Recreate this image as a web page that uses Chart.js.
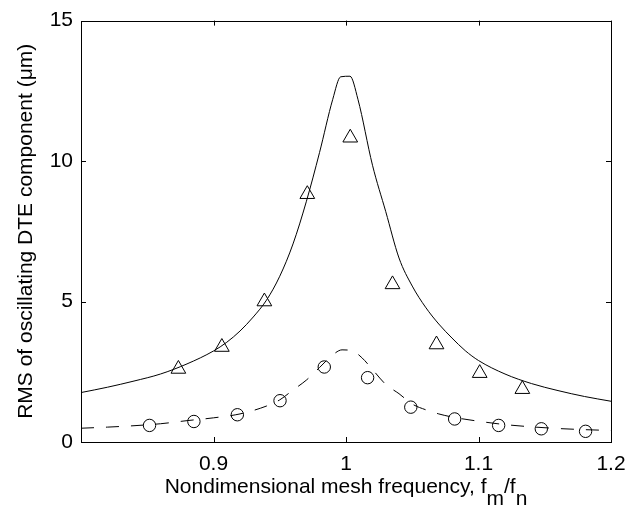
<!DOCTYPE html>
<html>
<head>
<meta charset="utf-8">
<script src="https://cdn.jsdelivr.net/npm/chart.js@4.4.1/dist/chart.umd.min.js"></script>
<style>
  html, body { margin: 0; padding: 0; background: #fff; }
  #wrap { width: 641px; height: 508px; }
</style>
</head>
<body>
<div id="wrap"><canvas id="chart" width="641" height="508"></canvas></div>
<script>
// measured points (triangles = high load, circles = low load)
const triX = [0.8735, 0.9063, 0.9384, 0.9708, 1.0032, 1.0351, 1.0683, 1.1009, 1.1331];
const triY = [2.60, 3.38, 5.00, 8.82, 10.83, 5.61, 3.47, 2.45, 1.88];
const circX = [0.8517, 0.8852, 0.9180, 0.9502, 0.9836, 1.0163, 1.0489, 1.0820, 1.1152, 1.1474, 1.1808];
const circY = [0.59, 0.73, 0.97, 1.47, 2.67, 2.29, 1.24, 0.82, 0.59, 0.47, 0.38];

// predicted curves
const solidX = [0.80, 0.82, 0.84, 0.86, 0.88, 0.90, 0.91, 0.92, 0.93, 0.94, 0.95, 0.96, 0.97, 0.98, 0.99, 0.996, 1.003,
  1.009, 1.02, 1.03, 1.04, 1.05, 1.06, 1.07, 1.08, 1.09, 1.10, 1.12, 1.14, 1.16, 1.18, 1.20];
const solidY = [1.76, 1.95, 2.17, 2.42, 2.78, 3.24, 3.55, 3.95, 4.45, 5.05, 5.90, 7.05, 8.55, 10.3, 12.2, 13.0, 13.02,
  12.2, 9.85, 8.20, 6.55, 5.55, 4.80, 4.20, 3.70, 3.25, 2.90, 2.42, 2.08, 1.83, 1.62, 1.45];
const dashX = [0.80, 0.82, 0.84, 0.86, 0.88, 0.90, 0.92, 0.94, 0.95, 0.96, 0.97, 0.98, 0.99, 0.997, 1.005,
  1.012, 1.02, 1.03, 1.04, 1.05, 1.06, 1.07, 1.08, 1.10, 1.12, 1.14, 1.16, 1.18, 1.20];
const dashY = [0.49, 0.53, 0.58, 0.65, 0.76, 0.86, 1.00, 1.28, 1.50, 1.85, 2.20, 2.65, 3.10, 3.28, 3.24,
  3.00, 2.58, 2.05, 1.72, 1.35, 1.15, 1.00, 0.89, 0.74, 0.62, 0.54, 0.48, 0.44, 0.41];

const xTickValues = [0.9, 1, 1.1, 1.2];
const yTickValues = [0, 5, 10, 15];

const FONT = '"Liberation Sans", Arial, Helvetica, sans-serif';
const FSIZE = 21;

const toPts = (xs, ys) => xs.map((x, i) => ({ x: x, y: ys[i] }));

// box, inward ticks and the two axis titles
const frame = {
  id: 'frame',
  afterDraw(chart) {
    const ctx = chart.ctx;
    const a = chart.chartArea;
    const sx = chart.scales.x, sy = chart.scales.y;
    ctx.save();
    ctx.strokeStyle = '#000';
    ctx.lineWidth = 1;
    ctx.strokeRect(Math.round(a.left) + 0.5, Math.round(a.top) + 0.5,
      Math.round(a.right - a.left), Math.round(a.bottom - a.top));
    ctx.beginPath();
    xTickValues.forEach(v => {
      const px = Math.round(sx.getPixelForValue(v)) + 0.5;
      ctx.moveTo(px, a.bottom); ctx.lineTo(px, a.bottom - 5);
      ctx.moveTo(px, a.top); ctx.lineTo(px, a.top + 5);
    });
    yTickValues.forEach(v => {
      const py = Math.round(sy.getPixelForValue(v)) + 0.5;
      ctx.moveTo(a.left, py); ctx.lineTo(a.left + 5, py);
      ctx.moveTo(a.right, py); ctx.lineTo(a.right - 5, py);
    });
    ctx.stroke();

    ctx.fillStyle = '#000';
    ctx.font = FSIZE + 'px ' + FONT;
    ctx.textBaseline = 'alphabetic';
    ctx.textAlign = 'left';
    const parts = [['Nondimensional mesh frequency, f', 0], ['m', 1], ['/f', 0], ['n', 1]];
    const total = parts.reduce((s, p) => s + ctx.measureText(p[0]).width, 0);
    let x0 = (a.left + a.right) / 2 - total / 2;
    parts.forEach(p => {
      ctx.fillText(p[0], x0, p[1] ? 505 : 493);
      x0 += ctx.measureText(p[0]).width;
    });

    ctx.translate(26, (a.top + a.bottom) / 2);
    ctx.rotate(-Math.PI / 2);
    ctx.textAlign = 'center';
    ctx.textBaseline = 'middle';
    ctx.fillText('RMS of oscillating DTE component (\u03bcm)', 0, 0);
    ctx.restore();
  }
};

new Chart(document.getElementById('chart'), {
  type: 'scatter',
  data: {
    datasets: [
      {
        data: toPts(solidX, solidY), showLine: true, borderColor: '#000', borderWidth: 1,
        pointRadius: 0, cubicInterpolationMode: 'monotone'
      },
      {
        data: toPts(dashX, dashY), showLine: true, borderColor: '#000', borderWidth: 1,
        borderDash: [13, 12], pointRadius: 0, cubicInterpolationMode: 'monotone'
      },
      {
        data: toPts(triX, triY), showLine: false, pointStyle: 'triangle', pointRadius: 8.5,
        pointBorderColor: '#000', pointBackgroundColor: 'rgba(0,0,0,0)', pointBorderWidth: 1
      },
      {
        data: toPts(circX, circY), showLine: false, pointStyle: 'circle', pointRadius: 6.2,
        pointBorderColor: '#000', pointBackgroundColor: 'rgba(0,0,0,0)', pointBorderWidth: 1
      }
    ]
  },
  options: {
    responsive: false,
    animation: false,
    devicePixelRatio: 1,
    events: [],
    layout: { padding: { top: 17, right: 30, bottom: 0, left: 0 } },
    plugins: { legend: { display: false }, tooltip: { enabled: false } },
    scales: {
      x: {
        type: 'linear', min: 0.8, max: 1.2,
        afterBuildTicks: s => { s.ticks = xTickValues.map(v => ({ value: v })); },
        afterFit: s => { s.height = 66; },
        grid: { display: false, drawTicks: false },
        border: { display: false },
        ticks: { color: '#000', padding: 10, maxRotation: 0, font: { family: FONT, size: FSIZE },
          callback: v => String(v) }
      },
      y: {
        type: 'linear', min: 0, max: 15,
        afterBuildTicks: s => { s.ticks = yTickValues.map(v => ({ value: v })); },
        afterFit: s => { s.width = 81; },
        grid: { display: false, drawTicks: false },
        border: { display: false },
        ticks: { color: '#000', padding: 8, font: { family: FONT, size: FSIZE },
          callback: v => String(v) }
      }
    }
  },
  plugins: [frame]
});
</script>
</body>
</html>
